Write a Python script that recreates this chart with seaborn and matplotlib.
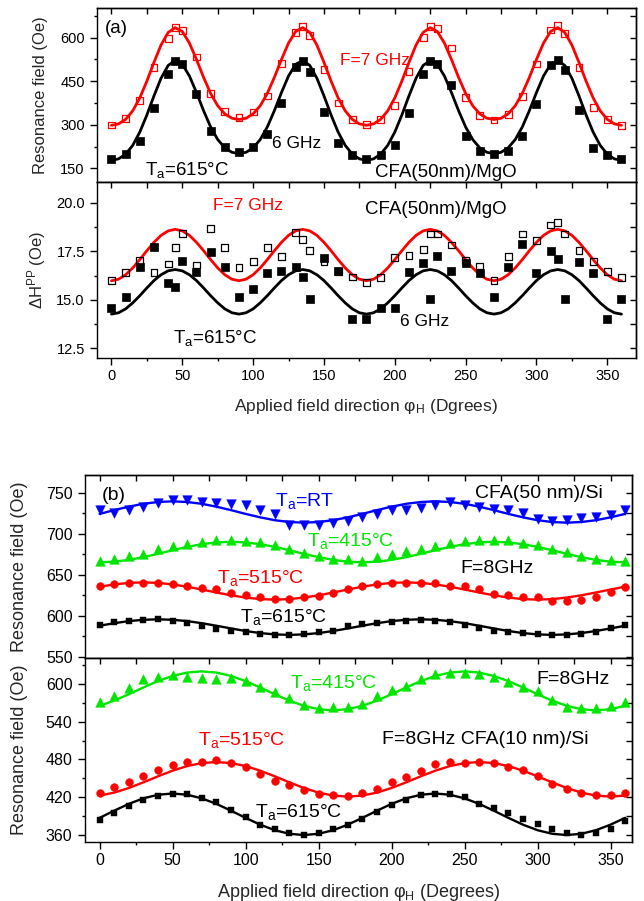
import numpy as np
import matplotlib
matplotlib.use("Agg")
import matplotlib.pyplot as plt
import seaborn as sns
from matplotlib.ticker import MultipleLocator, FixedLocator, FormatStrFormatter, NullLocator

sns.set_theme(style="ticks")
plt.rcParams['font.family'] = ['Liberation Sans', 'DejaVu Sans']
plt.rcParams['mathtext.fontset'] = 'custom'
plt.rcParams['mathtext.rm'] = 'Liberation Sans'
plt.rcParams['mathtext.it'] = 'Liberation Sans:italic'
plt.rcParams['mathtext.bf'] = 'Liberation Sans:bold'

# ---------------- data: panel (a) ----------------
angle_a = [0, 10, 20, 30, 40, 45, 50, 60, 70, 80, 90, 100, 110, 120, 130, 135, 140, 150, 160, 170,
           180, 190, 200, 210, 220, 225, 230, 240, 250, 260, 270, 280, 290, 300, 310, 315, 320, 330,
           340, 350, 360]
hr_7ghz = [299, 322, 384, 497, 596, 635, 624, 533, 407, 346, 325, 344, 399, 510, 618, 638, 606, 490,
           375, 319, 302, 317, 365, 482, 600, 638, 632, 564, 393, 331, 316, 336, 397, 509, 626, 641,
           615, 498, 358, 319, 297]
hr_6ghz = [183, 199, 245, 357, 473, 518, 509, 407, 280, 225, 206, 223, 268, 376, 498, 518, 482, 345,
           237, 195, 183, 195, 229, 339, 473, 518, 510, 435, 260, 208, 200, 210, 260, 373, 507, 524,
           488, 351, 219, 195, 181]
dh_7ghz = [16.01, 16.41, 17.01, 16.41, 16.84, 17.68, 18.42, 16.79, 18.68, 17.68, 16.67, 16.99, 17.70,
           17.25, 18.47, 18.11, 17.53, 16.99, 16.44, 16.17, 15.89, 16.15, 17.17, 17.30, 17.59, 18.39,
           18.39, 17.82, 17.01, 16.74, 16.01, 17.25, 18.39, 18.04, 18.85, 18.99, 18.39, 17.53, 16.96,
           16.44, 16.15]
dh_6ghz = [14.59, 15.12, 16.70, 17.73, 15.84, 15.67, 16.99, 16.44, 17.44, 16.70, 15.12, 15.57, 16.39,
           16.50, 16.70, 16.19, 15.02, 17.13, 16.50, 13.99, 13.99, 14.59, 14.59, 16.44, 16.91, 15.02,
           17.25, 16.50, 16.90, 16.39, 15.12, 16.67, 17.85, 16.39, 17.51, 17.08, 15.02, 16.96, 16.39,
           13.99, 15.02]

# fitted curves (every 5 degrees)
angle_fit_a = list(range(0, 361, 5))
fit_hr_7ghz = [298, 302.9, 318.5, 347.8, 392.3, 450.2, 514.5, 574.3, 617.4, 634, 620.8, 581.1, 524.5,
               463.0, 407.7, 365.2, 337.3, 322.5, 318,
               322.5, 337.3, 365.2, 407.7, 463.0, 524.5, 581.1, 620.8, 634, 617.4, 574.3, 514.5, 450.2,
               392.3, 347.8, 318.5, 302.9, 298,
               302.9, 318.5, 347.8, 392.3, 450.2, 514.5, 574.3, 617.4, 634, 620.8, 581.1, 524.5, 463.0,
               407.7, 365.2, 337.3, 322.5, 318,
               322.5, 337.3, 365.2, 407.7, 463.0, 524.5, 581.1, 620.8, 634, 617.4, 574.3, 514.5, 450.2,
               392.3, 347.8, 318.5, 302.9, 298]
fit_hr_6ghz = [177.5, 182.6, 198.8, 229.0, 274.7, 333.7, 399.3, 460.1, 503.9, 521, 507.9, 467.9, 410.8,
               348.5, 292.3, 249.0, 220.4, 205.2, 200.5,
               205.2, 220.4, 249.0, 292.3, 348.5, 410.8, 467.9, 507.9, 521, 503.9, 460.1, 399.3, 333.7,
               274.7, 229.0, 198.8, 182.6, 177.5,
               182.6, 198.8, 229.0, 274.7, 333.7, 399.3, 460.1, 503.9, 521, 507.9, 467.9, 410.8, 348.5,
               292.3, 249.0, 220.4, 205.2, 200.5,
               205.2, 220.4, 249.0, 292.3, 348.5, 410.8, 467.9, 507.9, 521, 503.9, 460.1, 399.3, 333.7,
               274.7, 229.0, 198.8, 182.6, 177.5]
fit_dh_7ghz = [15.98, 16.06, 16.29, 16.64, 17.07, 17.53, 17.96, 18.32, 18.55, 18.63, 18.55, 18.32, 17.96,
               17.53, 17.07, 16.64, 16.29, 16.06, 15.98,
               16.06, 16.29, 16.64, 17.07, 17.53, 17.96, 18.32, 18.55, 18.63, 18.55, 18.32, 17.96, 17.53,
               17.07, 16.64, 16.29, 16.06, 15.98,
               16.06, 16.29, 16.64, 17.07, 17.53, 17.96, 18.32, 18.55, 18.63, 18.55, 18.32, 17.96, 17.53,
               17.07, 16.64, 16.29, 16.06, 15.98,
               16.06, 16.29, 16.64, 17.07, 17.53, 17.96, 18.32, 18.55, 18.63, 18.55, 18.32, 17.96, 17.53,
               17.07, 16.64, 16.29, 16.06, 15.98]
fit_dh_6ghz = [14.26, 14.33, 14.53, 14.84, 15.21, 15.61, 15.99, 16.29, 16.49, 16.56, 16.49, 16.29, 15.99,
               15.61, 15.21, 14.84, 14.53, 14.33, 14.26,
               14.33, 14.53, 14.84, 15.21, 15.61, 15.99, 16.29, 16.49, 16.56, 16.49, 16.29, 15.99, 15.61,
               15.21, 14.84, 14.53, 14.33, 14.26,
               14.33, 14.53, 14.84, 15.21, 15.61, 15.99, 16.29, 16.49, 16.56, 16.49, 16.29, 15.99, 15.61,
               15.21, 14.84, 14.53, 14.33, 14.26,
               14.33, 14.53, 14.84, 15.21, 15.61, 15.99, 16.29, 16.49, 16.56, 16.49, 16.29, 15.99, 15.61,
               15.21, 14.84, 14.53, 14.33, 14.26]

# ---------------- data: panel (b) ----------------
angle_b = list(range(0, 361, 10))
hr_50_rt = [729.0, 725.0, 729.0, 733.0, 737.1, 741.1, 741.1, 737.9, 737.1, 735.9, 735.1, 729.0, 723.8,
            710.9, 710.0, 710.0, 712.9, 715.7, 720.1, 724.2, 728.2, 729.0, 731.0, 735.1, 739.1, 735.1,
            731.8, 729.8, 729.0, 725.0, 717.7, 715.7, 716.9, 718.9, 720.1, 723.0, 729.0]
hr_50_415 = [666.5, 669.3, 672.5, 674.5, 680.6, 684.6, 687.8, 689.5, 692.7, 692.7, 691.5, 689.5, 685.8,
             681.8, 676.6, 672.5, 668.5, 668.5, 667.0, 671.7, 675.7, 678.5, 681.4, 685.4, 688.7, 690.7,
             692.7, 692.7, 691.9, 688.7, 686.6, 681.4, 677.4, 672.5, 669.3, 667.7, 666.5]
hr_50_515 = [636.2, 638.2, 640.2, 640.2, 639.4, 638.2, 636.2, 634.2, 632.2, 628.1, 624.9, 622.1, 620.0,
             620.8, 622.1, 624.1, 628.1, 632.2, 636.5, 638.2, 640.2, 640.2, 640.2, 639.4, 636.2, 636.2,
             632.2, 626.1, 624.9, 622.1, 622.1, 618.0, 618.0, 619.2, 622.1, 629.0, 635.1]
hr_50_615 = [589.0, 591.9, 593.8, 594.7, 595.9, 593.1, 590.7, 587.0, 583.8, 580.8, 579.6, 577.7, 576.9,
             576.9, 577.7, 579.6, 581.7, 587.0, 589.4, 591.0, 592.6, 593.8, 594.7, 593.8, 591.9, 589.0,
             585.0, 581.7, 579.6, 578.9, 577.7, 576.9, 576.9, 577.7, 580.5, 585.0, 589.0]
hr_10_415 = [571.8, 580.9, 593.1, 607.4, 611.7, 614.4, 611.7, 609.0, 607.4, 609.0, 605.3, 595.7, 587.8,
             577.1, 566.5, 561.2, 562.8, 562.8, 568.6, 580.9, 590.4, 596.8, 607.4, 616.0, 618.1, 618.1,
             616.0, 610.6, 603.7, 595.7, 588.8, 574.5, 562.8, 561.2, 561.2, 564.9, 571.8]
hr_10_515 = [426.6, 436.2, 444.2, 453.2, 462.8, 471.8, 476.1, 476.1, 478.7, 474.5, 468.1, 456.4, 445.2,
             439.9, 430.9, 425.5, 422.9, 421.3, 426.0, 433.5, 444.2, 452.1, 461.7, 472.3, 476.1, 474.5,
             476.1, 474.5, 468.1, 462.8, 453.2, 441.5, 433.5, 426.6, 422.9, 422.9, 426.6]
hr_10_615 = [384.0, 394.7, 406.9, 414.9, 421.8, 425.5, 424.5, 419.2, 412.2, 400.0, 388.3, 376.5, 369.7,
             362.8, 360.6, 362.8, 369.7, 376.6, 385.0, 396.0, 407.0, 415.0, 422.9, 425.5, 425.5, 420.2,
             409.6, 403.2, 394.7, 385.6, 377.7, 369.7, 362.8, 360.6, 362.8, 369.7, 383.0]

fit_50_rt = [724.0, 728.6, 732.8, 736.3, 738.5, 739.3, 738.5, 736.3, 732.8, 728.6, 724.0, 719.8, 716.3,
             714.1, 713.3, 714.1, 716.3, 719.8, 724.0, 728.6, 732.8, 736.3, 738.5, 739.3, 738.5, 736.3,
             732.8, 728.6, 724.0, 719.8, 716.3, 714.1, 713.3, 714.1, 716.3, 719.8, 724.0]
fit_50_415 = [665.0, 665.75, 667.9, 671.25, 675.3, 679.7, 683.75, 687.1, 689.25, 690.0, 689.25, 687.1,
              683.75, 679.7, 675.3, 671.25, 667.9, 665.75, 665.0, 665.75, 667.9, 671.25, 675.3, 679.7,
              683.75, 687.1, 689.25, 690.0, 689.25, 687.1, 683.75, 679.7, 675.3, 671.25, 667.9, 665.75,
              665.0]
fit_50_515 = [635.25, 638.0, 639.9, 640.5, 639.9, 638.0, 635.25, 631.8, 628.2, 624.75, 622.0, 620.1,
              619.5, 620.1, 622.0, 624.75, 628.2, 631.8, 635.25, 638.0, 639.9, 640.5, 639.9, 638.0,
              635.25, 631.8, 628.2, 624.75, 622.0, 620.1, 619.5, 620.1, 622.0, 624.75, 628.2, 631.8,
              635.25]
fit_50_615 = [587.65, 590.75, 593.3, 594.9, 595.5, 594.9, 593.3, 590.75, 587.65, 584.35, 581.25, 578.7,
              577.1, 576.5, 577.1, 578.7, 581.25, 584.35, 587.65, 590.75, 593.3, 594.9, 595.5, 594.9,
              593.3, 590.75, 587.65, 584.35, 581.25, 578.7, 577.1, 576.5, 577.1, 578.7, 581.25, 584.35,
              587.65]
fit_10_415 = [565.25, 573.5, 583.6, 594.4, 604.5, 612.75, 618.1, 620.0, 618.1, 612.75, 604.5, 594.4,
              583.6, 573.5, 565.25, 559.9, 558.0, 559.9, 565.25, 573.5, 583.6, 594.4, 604.5, 612.75,
              618.1, 620.0, 618.1, 612.75, 604.5, 594.4, 583.6, 573.5, 565.25, 559.9, 558.0, 559.9,
              565.25]
fit_10_515 = [422.7, 427.4, 434.75, 443.7, 453.3, 462.25, 469.6, 474.3, 476.0, 474.3, 469.6, 462.25,
              453.3, 443.7, 434.75, 427.4, 422.7, 421.0, 422.7, 427.4, 434.75, 443.7, 453.3, 462.25,
              469.6, 474.3, 476.0, 474.3, 469.6, 462.25, 453.3, 443.7, 434.75, 427.4, 422.7, 421.0,
              422.7]
fit_10_615 = [387.3, 398.7, 409.5, 418.3, 424.0, 426.0, 424.0, 418.3, 409.5, 398.7, 387.3, 376.5, 367.7,
              362.0, 360.0, 362.0, 367.7, 376.5, 387.3, 398.7, 409.5, 418.3, 424.0, 426.0, 424.0, 418.3,
              409.5, 398.7, 387.3, 376.5, 367.7, 362.0, 360.0, 362.0, 367.7, 376.5, 387.3]

x_ticks = [0, 50, 100, 150, 200, 250, 300, 350]

RED = '#ff0000'
BLUE = '#0000ff'
GREEN = '#00e600'
BLACK = '#000000'

fig = plt.figure(figsize=(6.44, 9.01), dpi=100)
axA1 = fig.add_axes([0.1511, 0.7980, 0.8359, 0.1931])
axA2 = fig.add_axes([0.1511, 0.6027, 0.8359, 0.1953])
axB1 = fig.add_axes([0.1320, 0.2694, 0.8489, 0.2034])
axB2 = fig.add_axes([0.1320, 0.0658, 0.8489, 0.2036])


def base_style(ax, xlim, ylim, ymaj, ymin, fs, bottom_labels):
    ax.set_xlim(*xlim)
    ax.set_ylim(*ylim)
    ax.xaxis.set_major_locator(FixedLocator(x_ticks))
    ax.xaxis.set_minor_locator(MultipleLocator(25))
    ax.yaxis.set_major_locator(MultipleLocator(ymaj))
    ax.yaxis.set_minor_locator(MultipleLocator(ymin))
    for sp in ax.spines.values():
        sp.set_linewidth(1.0)
        sp.set_color('black')
    ax.tick_params(axis='both', which='major', direction='out', length=5, width=1.0,
                   labelsize=fs, colors='black', pad=3)
    ax.tick_params(axis='both', which='minor', direction='out', length=2.5, width=1.0, colors='black')
    ax.tick_params(axis='y', which='major', pad=4)
    ax.tick_params(top=False, right=False)
    if not bottom_labels:
        ax.tick_params(axis='x', which='both', bottom=False, labelbottom=False)
    ax.set_xlabel('')
    ax.set_ylabel('')
    # mirrored inward ticks on top and right
    sx = ax.secondary_xaxis('top')
    sx.xaxis.set_major_locator(FixedLocator(list(range(0, 351, 25))))
    sx.xaxis.set_minor_locator(NullLocator())
    sx.tick_params(axis='x', direction='in', length=4.5, width=1.0, labeltop=False, colors='black')
    sy = ax.secondary_yaxis('right')
    sy.yaxis.set_major_locator(MultipleLocator(ymin))
    sy.yaxis.set_minor_locator(NullLocator())
    sy.tick_params(axis='y', direction='in', length=4.5, width=1.0, labelright=False, colors='black')
    for s in (sx, sy):
        for sp in s.spines.values():
            sp.set_linewidth(1.0)
            sp.set_color('black')


def line(ax, x, y, color, lw):
    sns.lineplot(x=x, y=y, ax=ax, color=color, linewidth=lw, legend=False, zorder=2)


def pts(ax, x, y, marker, s, face, edge, lw=0.6):
    sns.scatterplot(x=x, y=y, ax=ax, marker=marker, s=s, color=edge, facecolor=face,
                    edgecolor=edge, linewidth=lw, legend=False, zorder=3)


def note(ax, x, y, s, color='black', size=13):
    ax.text(x, y, s, transform=ax.transAxes, ha='left', va='baseline', color=color, fontsize=size)


# ---------- (a) top ----------
base_style(axA1, (-10, 370), (103, 701.5), 150, 75, 10.5, False)
line(axA1, angle_fit_a, fit_hr_7ghz, RED, 2.0)
line(axA1, angle_fit_a, fit_hr_6ghz, BLACK, 2.0)
pts(axA1, angle_a, hr_7ghz, 's', 24, 'none', RED, 0.9)
pts(axA1, angle_a, hr_6ghz, 's', 28, BLACK, BLACK, 0.5)
axA1.set_ylabel('Resonance field (Oe)', fontsize=12)
axA1.yaxis.set_label_coords(-0.092, 0.5)
note(axA1, 0.0143, 0.856, '(a)', size=13.5)
note(axA1, 0.4507, 0.672, 'F=7 GHz', RED, 12.5)
note(axA1, 0.324, 0.194, '6 GHz', BLACK, 12.5)
note(axA1, 0.0886, 0.040, r'T$_{\mathrm{a}}$=615°C', BLACK, 13.5)
note(axA1, 0.5157, 0.030, 'CFA(50nm)/MgO', BLACK, 13.5)

# ---------- (a) bottom ----------
base_style(axA2, (-10, 370), (12.0, 21.07), 2.5, 1.25, 10.5, True)
axA2.yaxis.set_major_formatter(FormatStrFormatter('%.1f'))
line(axA2, angle_fit_a, fit_dh_7ghz, RED, 2.0)
line(axA2, angle_fit_a, fit_dh_6ghz, BLACK, 2.0)
pts(axA2, angle_a, dh_7ghz, 's', 24, 'none', BLACK, 0.9)
pts(axA2, angle_a, dh_6ghz, 's', 28, BLACK, BLACK, 0.5)
axA2.set_ylabel(r'ΔH$^{\mathrm{PP}}$ (Oe)', fontsize=12)
axA2.yaxis.set_label_coords(-0.092, 0.5)
axA2.set_xlabel(r'Applied field direction φ$_{\mathrm{H}}$ (Dgrees)', fontsize=12.5)
axA2.xaxis.set_label_coords(0.5, -0.222)
axA2.xaxis.label.set_va('top')
note(axA2, 0.215, 0.841, 'F=7 GHz', RED, 12.5)
note(axA2, 0.497, 0.8165, 'CFA(50nm)/MgO', BLACK, 13.5)
note(axA2, 0.562, 0.182, '6 GHz', BLACK, 12.5)
note(axA2, 0.1405, 0.0835, r'T$_{\mathrm{a}}$=615°C', BLACK, 13.5)

# ---------- (b) top ----------
XLIM_B = (-10, 364.5)
base_style(axB1, XLIM_B, (548, 771.4), 50, 25, 11.5, False)
line(axB1, angle_b, fit_50_rt, BLUE, 1.7)
line(axB1, angle_b, fit_50_415, GREEN, 1.7)
line(axB1, angle_b, fit_50_515, RED, 1.7)
line(axB1, angle_b, fit_50_615, BLACK, 1.7)
pts(axB1, angle_b, hr_50_rt, 'v', 48, BLUE, BLUE, 0.3)
pts(axB1, angle_b, hr_50_415, '^', 48, GREEN, GREEN, 0.3)
pts(axB1, angle_b, hr_50_515, 'o', 32, RED, RED, 0.3)
pts(axB1, angle_b, hr_50_615, 's', 25, BLACK, BLACK, 0.3)
axB1.set_ylabel('Resonance field (Oe)', fontsize=13)
axB1.yaxis.set_label_coords(-0.104, 0.5)
note(axB1, 0.0305, 0.864, '(b)', size=14)
note(axB1, 0.3475, 0.831, r'T$_{\mathrm{a}}$=RT', BLUE, 14)
note(axB1, 0.7134, 0.873, 'CFA(50 nm)/Si', BLACK, 14)
note(axB1, 0.4055, 0.6127, r'T$_{\mathrm{a}}$=415°C', GREEN, 14)
note(axB1, 0.686, 0.4637, 'F=8GHz', BLACK, 14)
note(axB1, 0.241, 0.409, r'T$_{\mathrm{a}}$=515°C', RED, 14)
note(axB1, 0.2835, 0.1997, r'T$_{\mathrm{a}}$=615°C', BLACK, 14)

# ---------- (b) bottom ----------
base_style(axB2, XLIM_B, (349.4, 640.8), 60, 30, 11.5, True)
line(axB2, angle_b, fit_10_415, GREEN, 1.7)
line(axB2, angle_b, fit_10_515, RED, 1.7)
line(axB2, angle_b, fit_10_615, BLACK, 1.7)
pts(axB2, angle_b, hr_10_415, '^', 48, GREEN, GREEN, 0.3)
pts(axB2, angle_b, hr_10_515, 'o', 32, RED, RED, 0.3)
pts(axB2, angle_b, hr_10_615, 's', 25, BLACK, BLACK, 0.3)
axB2.set_ylabel('Resonance field (Oe)', fontsize=13)
axB2.yaxis.set_label_coords(-0.104, 0.5)
axB2.set_xlabel(r'Applied field direction φ$_{\mathrm{H}}$ (Degrees)', fontsize=13)
axB2.xaxis.set_label_coords(0.5, -0.218)
axB2.xaxis.label.set_va('top')
note(axB2, 0.826, 0.86, 'F=8GHz', BLACK, 14)
note(axB2, 0.375, 0.8364, r'T$_{\mathrm{a}}$=415°C', GREEN, 14)
note(axB2, 0.5427, 0.5327, 'F=8GHz CFA(10 nm)/Si', BLACK, 14)
note(axB2, 0.2073, 0.527, r'T$_{\mathrm{a}}$=515°C', RED, 14)
note(axB2, 0.311, 0.136, r'T$_{\mathrm{a}}$=615°C', BLACK, 14)

fig.savefig('out.png', dpi=100)
